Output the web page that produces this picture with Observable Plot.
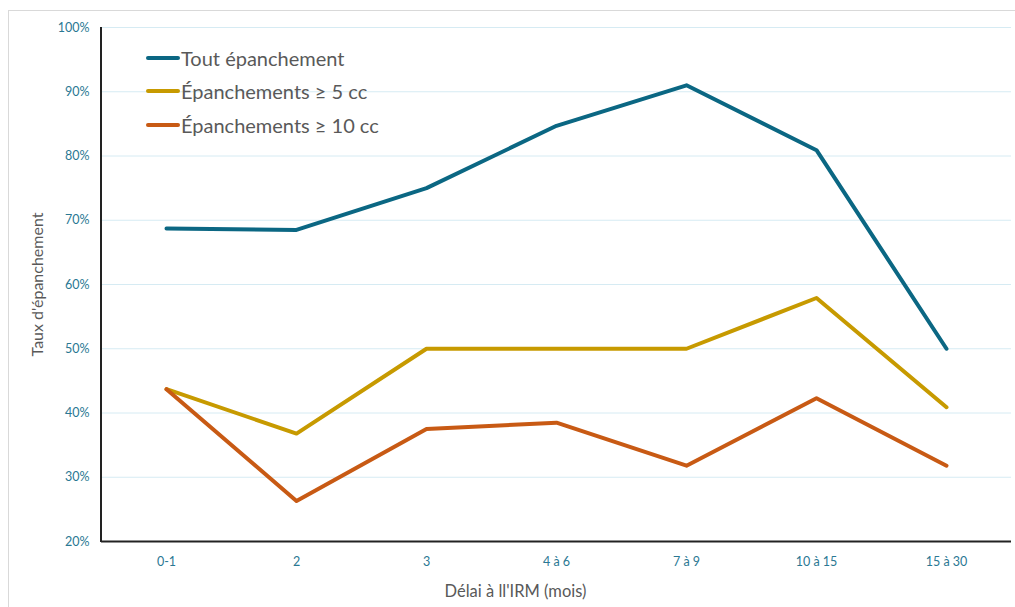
<!DOCTYPE html>
<html><head><meta charset="utf-8">
<script src="https://cdn.jsdelivr.net/npm/d3@7"></script>
<script src="https://cdn.jsdelivr.net/npm/@observablehq/plot@0.6"></script>
<style>
body{margin:0;background:#fff;font-family:Lato,"Open Sans",sans-serif;overflow:hidden;}
#wrap{position:relative;width:1015px;height:607px;overflow:hidden;}
#border{position:absolute;left:8px;top:10px;width:1030px;height:640px;border:1px solid #d9d9d9;box-sizing:border-box;pointer-events:none;}
#legend{position:absolute;left:146px;top:41px;font-size:20px;color:#595959;}
#legend div{display:flex;align-items:center;height:33.5px;}
#legend span.sw{display:inline-block;width:34px;height:4px;border-radius:2px;margin-right:1px;}
</style></head>
<body><div id="wrap"><div id="border"></div><div id="legend"></div></div>
<script>
const categories = ["0-1","2","3","4 à 6","7 à 9","10 à 15","15 à 30"];
const seriesNames = ["Tout épanchement","Épanchements ≥ 5 cc","Épanchements ≥ 10 cc"];
const toutEpanchement = [0.687,0.685,0.750,0.847,0.910,0.809,0.500];
const epanchements5 = [0.437,0.368,0.500,0.500,0.500,0.579,0.409];
const epanchements10 = [0.437,0.263,0.375,0.385,0.318,0.423,0.318];
const yTicks = [0.2,0.3,0.4,0.5,0.6,0.7,0.8,0.9,1.0];
const colors = ["#0b6783","#c79a00","#c85a14"];
const yTitle = "Taux d'épanchement";
const xTitle = "Délai à ll'IRM (mois)";

const allSeries = [toutEpanchement, epanchements5, epanchements10];
const data = [];
allSeries.forEach((vals, s) => vals.forEach((v, i) => data.push({cat: categories[i], value: v, series: seriesNames[s]})));

const tickColor = "#2a7893";
const leftAxisLine = (index, scales, values, dimensions) => {
  const {marginLeft, marginTop, height, marginBottom} = dimensions;
  const g = d3.create("svg:line")
    .attr("x1", marginLeft).attr("x2", marginLeft)
    .attr("y1", marginTop).attr("y2", height - marginBottom + 1)
    .attr("stroke", "#222").attr("stroke-width", 2);
  return g.node();
};
const chart = Plot.plot({
  width: 1015, height: 607,
  marginLeft: 101, marginRight: 4, marginTop: 27, marginBottom: 66,
  style: {fontFamily: "Lato, 'Open Sans', sans-serif", background: "transparent"},
  x: {type: "point", domain: categories, padding: 0.5},
  y: {domain: [0.2, 1.0]},
  color: {domain: seriesNames, range: colors},
  marks: [
    Plot.ruleY(yTicks.slice(1), {stroke: "#d6ebf3", strokeWidth: 1}),
    Plot.axisY({ticks: yTicks, tickFormat: d3.format(".0%"), tickSize: 0, tickPadding: 12, fontSize: 12.5, color: tickColor, label: null}),
    Plot.axisX({tickSize: 0, tickPadding: 16, fontSize: 12.5, color: tickColor, label: null}),
    Plot.text([yTitle], {text: d => d, frameAnchor: "left", textAnchor: "middle", rotate: -90, dx: -64, fontSize: 16, fill: "#595959"}),
    Plot.text([xTitle], {text: d => d, frameAnchor: "bottom", textAnchor: "middle", dy: 55, dx: -41, fontSize: 16.5, fill: "#595959"}),
    Plot.lineY(data, {x: "cat", y: "value", z: "series", stroke: "series", strokeWidth: 4, strokeLinecap: "round", strokeLinejoin: "round"}),
    Plot.ruleY([0.2], {stroke: "#222", strokeWidth: 2}),
    leftAxisLine
  ]
});
document.getElementById("wrap").appendChild(chart);

const leg = document.getElementById("legend");
seriesNames.forEach((n, i) => {
  const d = document.createElement("div");
  d.innerHTML = `<span class="sw" style="background:${colors[i]}"></span>${n}`;
  leg.appendChild(d);
});
</script></body></html>
